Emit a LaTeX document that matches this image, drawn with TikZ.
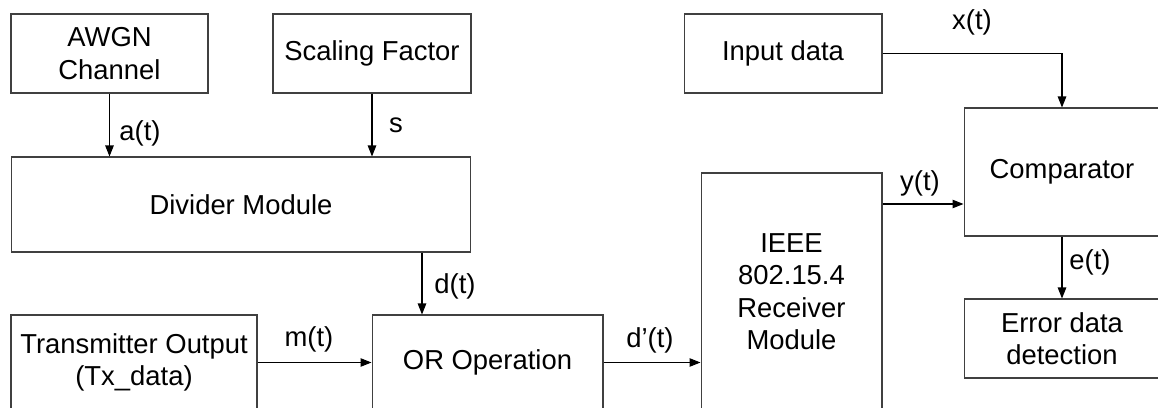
\documentclass[tikz,border=0pt]{standalone}
\usepackage{fontspec}
\setmainfont{Liberation Sans}
\usetikzlibrary{arrows.meta}

\begin{document}
\begin{tikzpicture}[x=0.02cm,y=-0.02cm,
	blk/.style={draw=black!75,line width=0.6pt,align=center,inner sep=0pt,font=\fontsize{15.6}{18.5}\selectfont},
	lbl/.style={font=\fontsize{15.6}{18}\selectfont,inner sep=0pt},
	sig/.style={line width=0.6pt,-{Triangle[length=2.2mm,width=1.7mm]}}]
	\useasboundingbox (0,0) rectangle (1158,408);
	\clip (0,0) rectangle (1158,408);
	% blocks
	\node[blk,minimum width=3.94cm,minimum height=1.58cm] (awgn) at (109.5,53.5){AWGN\\Channel};
	\node[blk,minimum width=3.96cm,minimum height=1.58cm] (scl) at (372,53.5){Scaling Factor};
	\node[blk,minimum width=9.2cm,minimum height=1.9cm] (div) at (241,204.5){Divider Module};
	\node[blk,minimum width=4.92cm,minimum height=1.9cm] (tx) at (134,362.5){Transmitter Output\\(Tx\_data)};
	\node[blk,minimum width=4.62cm,minimum height=1.9cm] (orop) at (487.5,362.5){OR Operation};
	\node[blk,minimum width=3.62cm,minimum height=4.74cm] (rx) at (791.5,291.5){IEEE\\802.15.4\\Receiver\\Module};
	\node[blk,minimum width=3.96cm,minimum height=1.58cm] (inp) at (783,53.5){Input data};
	\node[blk,minimum width=3.92cm,minimum height=2.56cm] (cmp) at (1062,172){Comparator};
	\node[blk,minimum width=3.92cm,minimum height=1.58cm] (err) at (1062,338.5){Error data\\detection};
	
	\coordinate (dcol) at (422,0);
	\coordinate (yrow) at (0,204);
	
	% signals
	\draw[sig] (awgn.south) -- (awgn.south |- div.north);
	\draw[sig] (scl.south) -- (scl.south |- div.north);
	\draw[sig] (div.south -| dcol) -- (orop.north -| dcol);
	\draw[sig] (tx.east) -- (tx.east -| orop.west);
	\draw[sig] (orop.east) -- (orop.east -| rx.west);
	\draw[sig] (rx.east |- yrow) -- (cmp.west |- yrow);
	\draw[sig] (inp.east) -| (cmp.north);
	\draw[sig] (cmp.south) -- (err.north);
	
	\node[lbl] (at) at (140,133){a(t)};
	\node[lbl] (st) at (396,125){s};
	\node[lbl] (dt) at (455,286){d(t)};
	\node[lbl] (mt) at (309,339){m(t)};
	\node[lbl] (dpt) at (650,340){d’(t)};
	\node[lbl] (xt) at (972,22){x(t)};
	\node[lbl] (yt) at (920,183){y(t)};
	\node[lbl] (et) at (1090,262){e(t)};
\end{tikzpicture}
\end{document}
